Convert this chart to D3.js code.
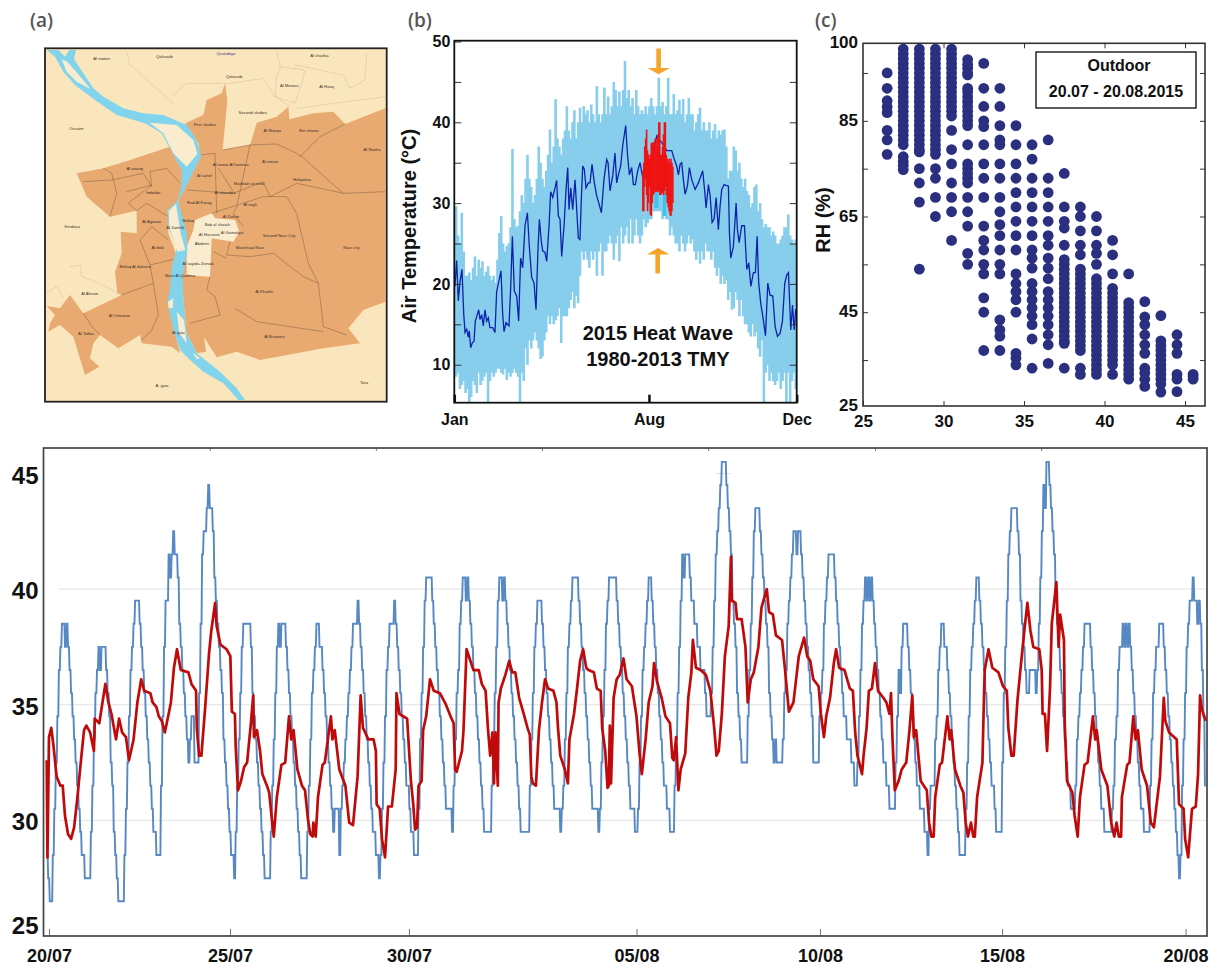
<!DOCTYPE html>
<html>
<head>
<meta charset="utf-8">
<script src="https://cdn.jsdelivr.net/npm/d3@7"></script>
<style>
	html, body { margin: 0; background: #fff; }
	svg { display: block; font-family: "Liberation Sans", Arial, sans-serif; }
	.panel-tag { font-family: "Open Sans", sans-serif; font-size: 19px; font-weight: 600; fill: #555; }
	.bold-tick text { font-weight: bold; fill: #111; }
</style>
</head>
<body>
<div id="chart"></div>
<script>
// (a) map, traced in map units
const mapLand = [[45, 145], [1070, 145], [1070, 1205], [45, 1205]];
const mapEastBank = [[465, 370], [520, 345], [530, 300], [575, 280], [585, 250], [592, 300], [578, 450], [660, 435], [680, 368], [740, 350], [775, 320], [778, 358], [850, 340], [910, 335], [945, 372], [1066, 325], [1066, 905], [1000, 930], [955, 985], [990, 1030], [880, 1045], [690, 1080], [620, 1055], [560, 1072], [522, 1012], [528, 1055], [500, 1060], [470, 1000], [460, 900], [455, 830], [470, 720], [445, 610], [470, 520], [510, 470], [505, 430]];
const mapWestBank = [[140, 520], [220, 505], [300, 480], [420, 440], [440, 480], [465, 520], [450, 600], [415, 630], [415, 700], [445, 780], [425, 840], [420, 900], [430, 980], [450, 1060], [425, 1040], [335, 1030], [330, 1005], [265, 1045], [210, 1005], [190, 1030], [180, 1075], [208, 1100], [165, 1125], [130, 1010], [90, 975], [55, 995], [60, 970], [75, 945], [50, 918], [90, 925], [120, 885], [160, 940], [275, 885], [262, 880], [255, 815], [275, 760], [272, 695], [320, 700], [320, 632], [240, 650], [170, 590]];
const mapBollaq = [[455, 610], [500, 670], [485, 705], [465, 700]];
const mapDowntown = [[495, 660], [545, 640], [555, 655], [615, 660], [628, 695], [610, 725], [545, 715], [540, 830], [470, 825], [470, 740], [490, 690]];
const mapNile = [[50, 150], [85, 150], [105, 170], [118, 150], [138, 150], [132, 178], [190, 265], [220, 290], [280, 325], [340, 340], [400, 345], [470, 375], [500, 420], [514, 468], [470, 555], [445, 605], [470, 700], [472, 750], [458, 830], [460, 900], [470, 1000], [500, 1060], [570, 1115], [620, 1165], [645, 1200], [625, 1200], [580, 1150], [520, 1115], [480, 1080], [450, 1050], [430, 990], [412, 905], [420, 870], [425, 800], [440, 745], [415, 680], [412, 630], [445, 600], [455, 550], [455, 510], [420, 445], [395, 400], [345, 370], [260, 345], [195, 300], [135, 255], [100, 215], [75, 170]];
const mapIslands = [
	[[95, 178], [112, 185], [155, 235], [182, 268], [140, 245], [110, 215]],
	[[358, 368], [440, 375], [490, 420], [502, 462], [470, 500], [430, 460], [400, 400]],
	[[416, 632], [438, 612], [452, 700], [466, 750], [442, 755], [418, 680]],
	[[440, 935], [462, 960], [470, 1030], [448, 1000]],
	[[414, 905], [430, 895], [428, 925], [416, 925]],
	[[488, 1058], [510, 1075], [500, 1078]]
];
const mapDistrictLines = [
	[[578, 450], [660, 435], [740, 432], [800, 460], [810, 470], [870, 410], [945, 372]],
	[[810, 465], [940, 580]],
	[[510, 465], [555, 460], [560, 640]],
	[[660, 435], [620, 620], [610, 640]],
	[[565, 505], [610, 575]],
	[[470, 570], [610, 580], [700, 545], [720, 590], [800, 550], [940, 580], [1065, 575]],
	[[545, 640], [700, 590], [770, 590], [800, 640], [835, 790], [865, 850], [880, 980], [950, 1005]],
	[[610, 640], [640, 680]],
	[[600, 725], [590, 765], [660, 770], [730, 760], [820, 830], [865, 850]],
	[[550, 755], [590, 775]],
	[[530, 870], [540, 830]],
	[[530, 870], [555, 890], [570, 945], [480, 970]],
	[[615, 925], [680, 965], [880, 995]],
	[[220, 505], [245, 520], [260, 580], [240, 650]],
	[[160, 545], [245, 540], [340, 520], [365, 560], [360, 515], [410, 505], [450, 550]],
	[[290, 575], [365, 555], [295, 610], [320, 632]],
	[[320, 632], [350, 610], [415, 650]],
	[[330, 720], [365, 680], [415, 720]],
	[[330, 720], [360, 795], [370, 850], [385, 945], [365, 990], [335, 1020]],
	[[360, 795], [430, 778]],
	[[160, 940], [190, 985], [210, 1005]],
	[[275, 885], [370, 850]]
];
const mapOuterLines = [
	[[290, 155], [300, 195], [430, 310]],
	[[430, 285], [470, 250], [600, 250], [700, 235], [735, 290], [780, 320]],
	[[750, 200], [825, 210], [815, 250], [795, 310], [735, 290], [740, 230], [750, 200]],
	[[795, 195], [940, 225], [960, 265], [1005, 240], [1010, 160]],
	[[740, 155], [750, 195]],
	[[800, 325], [1065, 290]],
	[[50, 880], [80, 860], [100, 895]],
	[[120, 800], [150, 795], [155, 830], [210, 850], [265, 880]]
];
const mapNames = ["Al namer", "Qalsouib", "Qualubiya", "Al sharika", "Qalsouib", "Al Morous", "Al Haraj", "Second shobra", "First shobra", "Al Matrya", "Ein shams", "Al Nozha", "Ossaim", "Al zawia Al hamraa", "Al sahel", "Al zitoun", "Al waraq", "Madinah al nsha", "Helipolisa", "Imbaba", "Al sharabia", "Rod Al Farag", "Al vayli", "Al Agouza", "Bollaq", "Al Zamilik", "Al Daher", "Bab al shaiah", "Kerdasa", "Al Husseini", "Al Gamaliya", "Abdeen", "Second Nasr City", "Nasr city", "Al doki", "Manshaat Nasr", "Bollaq Al dakrour", "Al sayida Zienab", "Masr Al-Qadima", "Al Khalifa", "Al Ahram", "Al Omranta", "Al Talbia", "Al giza", "Al Bsateen", "Tora", "A. giza"];
const mapNameSpots = [[215, 174], [403, 168], [588, 160], [868, 165], [612, 228], [778, 257], [890, 258], [668, 338], [524, 372], [727, 390], [837, 390], [1026, 449], [139, 384], [602, 492], [523, 527], [720, 483], [314, 505], [657, 549], [816, 539], [370, 576], [585, 578], [508, 606], [660, 613], [365, 663], [475, 660], [436, 682], [603, 650], [562, 673], [127, 680], [538, 704], [606, 696], [516, 729], [747, 706], [964, 741], [383, 743], [660, 741], [316, 798], [504, 791], [450, 825], [702, 873], [179, 880], [268, 946], [168, 1000], [445, 998], [733, 1010], [1002, 1147], [396, 1157]];

// (b) TMY band, one column every two days
const tmyHigh = [28, 29.6, 26, 25, 28.8, 24, 21, 21, 21.4, 20.5, 22, 23.4, 21, 23, 22, 22.8, 21, 21.5, 22.2, 21, 20.5, 21, 20.1, 23, 26.3, 28.4, 25, 24, 24.7, 25, 27, 36.7, 28, 27, 27.2, 29, 31, 30, 33, 36, 33, 32, 30, 31, 33, 37, 35, 33, 32, 34, 36, 39.1, 35, 37, 42.9, 38, 37, 36, 38, 39, 42, 39, 38, 40, 41.5, 38, 40, 41.8, 40, 42, 41, 41.5, 40, 42.2, 41, 40, 44.5, 41, 40, 41, 44.3, 41, 43.2, 41, 42, 45, 44, 42, 43.8, 42, 44, 47.6, 43, 44, 42, 43, 41, 44, 42, 41, 41.5, 41, 42, 41, 42, 43, 42, 41, 42, 45.5, 42, 42.5, 41, 42, 45.5, 41, 41, 43.5, 41, 41.5, 42.8, 41, 42.9, 40, 41, 43, 41, 41, 39, 40, 41, 41.8, 39, 40, 39, 39, 40, 38, 39, 39.8, 38, 39, 38.5, 39, 39.1, 37, 33, 34, 34, 37, 36.5, 34, 35, 33, 32, 33, 31.5, 31, 29.5, 30, 32, 32.3, 29, 30, 28, 27, 27.4, 27, 27, 26, 26.5, 26, 25, 25, 25.5, 26, 27, 27, 28.6, 26, 25.5, 25, 25.5];
const tmyLow = [12, 8.5, 9, 7, 7.5, 8, 6.5, 7, 5.3, 6, 8, 7.5, 6.5, 9, 7.5, 8, 8.5, 9, 5.3, 8, 9, 8.5, 9, 9.5, 9.5, 9, 8.8, 9.5, 8.1, 9, 8.5, 9, 9.5, 9, 8.5, 5.3, 9, 8, 12, 10, 13, 12, 13, 14, 13, 12, 10.7, 11, 13, 14, 16, 15, 16, 15, 15.5, 16, 17, 12.7, 16, 16, 16, 17, 18, 19, 17, 18.5, 17.6, 21, 24, 23, 24, 23, 22, 24, 23, 24, 21, 24, 25, 21, 24, 24, 25, 26, 25, 23, 25, 26, 22.8, 27, 25, 26, 27, 25, 28, 25, 26, 28, 26, 25, 26, 28, 27, 27.5, 28, 28, 29, 29, 29, 29, 29, 28, 28.5, 28, 28, 26, 27, 26, 25, 25, 24, 26, 25, 24, 25, 26, 25, 25.5, 24, 23, 24, 22.5, 24, 23, 25, 24, 24, 23, 24, 22, 21, 22, 20, 21, 20, 20.5, 18, 19, 16.8, 17, 19, 18, 16, 18, 16, 15, 15, 14, 13.5, 15, 13.5, 14, 12, 11, 13, 5.3, 9, 10, 8, 9, 8, 7.5, 8, 9, 7, 8, 9, 5.3, 9, 5.3, 8, 9, 7];
const tmyMean = [[0.7, 19.7], [2.5, 22.9], [4.3, 17.9], [6, 20.2], [8.2, 21.8], [10, 16.4], [11.4, 14], [13.2, 14.4], [14.9, 13.4], [16, 14.2], [17.4, 12.1], [19.2, 12.7], [21, 12.9], [22.4, 15.4], [24.5, 16.2], [26, 16.8], [27.4, 15.6], [29.2, 16.2], [30.9, 14.8], [32.7, 16.8], [34.5, 15.4], [36.3, 15.8], [38, 14.6], [40.9, 14.6], [43.4, 14], [45.1, 19], [47.6, 20.4], [49.8, 21.6], [51.5, 16.4], [53, 14.1], [55.1, 15.2], [58.3, 14.8], [60.1, 19.5], [61.9, 25.9], [64, 19.1], [66.5, 18.5], [68.6, 15.4], [70.7, 23.2], [72.9, 22], [75.4, 27.2], [77.9, 28.8], [80, 24.6], [82.5, 20.8], [85, 20.1], [87.1, 16.8], [89.2, 24.3], [90.7, 28], [92.8, 25.2], [94.2, 24.1], [96.7, 23.9], [98.5, 22.8], [101, 27.2], [102.7, 31.4], [104.9, 30.7], [107, 31.7], [109.1, 32.8], [110.9, 28.4], [112.7, 28], [114.5, 23.4], [117, 27.2], [119.1, 31.7], [120.9, 34.4], [122.3, 29.2], [124.1, 31.9], [126.2, 29.2], [128.7, 32.9], [130.5, 29.2], [132.2, 25.7], [134, 25.5], [135.4, 30.5], [136.9, 34.6], [138.6, 34.2], [140.4, 31.9], [142.9, 32.5], [144.7, 32.5], [146.8, 34.8], [149.3, 32.5], [151.8, 30.9], [154.3, 29.9], [156.8, 28.8], [159.6, 33], [162.5, 35.4], [163.9, 35], [166, 31.5], [168.9, 33.4], [171.3, 36.2], [173.1, 32.5], [174.9, 33.5], [177.4, 34.6], [179.5, 37.1], [182.7, 39.6], [184.5, 36.2], [186.6, 33.5], [189.1, 34.4], [190.9, 32.3], [193, 32.3], [195.5, 34], [198, 35], [200.5, 33.4], [205.1, 34.6], [210.4, 35.4], [215.8, 38.3], [221.1, 37.5], [226.5, 36.5], [231.8, 36.5], [234.3, 35.5], [237.1, 34.6], [238.9, 33.5], [240.7, 34.8], [242.4, 35], [244.2, 32.9], [246, 31.1], [248.5, 32.1], [250.6, 34.4], [253.1, 32.9], [256.7, 31.7], [260.2, 32.5], [264.8, 34], [267, 31.4], [268.4, 29.4], [270.9, 32.3], [272.7, 30.9], [274.8, 27.6], [276.9, 28], [279.1, 30.7], [281.5, 26.7], [283.3, 29.6], [285.1, 31.7], [287.6, 32.3], [292.2, 32.1], [293.3, 26.3], [294.7, 23.2], [297.5, 24.6], [300.4, 30], [301.8, 26.7], [303.6, 25.1], [306.4, 27.2], [309.3, 27.2], [311.8, 21.8], [313.9, 22.6], [316.1, 19.7], [318.9, 21.4], [321, 21.4], [322.8, 25.9], [324.5, 20.1], [326.7, 17.6], [329.5, 15.5], [331.7, 13.6], [334.2, 20.1], [336.6, 18.6], [339.5, 18.5], [342, 14.7], [344.5, 13.5], [347.3, 13.9], [349.8, 15.4], [352.3, 20.1], [354.4, 21.1], [356.2, 21.4], [358.7, 14.3], [360.5, 17.4], [362.3, 14.3], [364, 16.9]];
const waveDays = [201, 202, 203, 204, 205, 206, 207, 208, 209, 210, 211, 212, 213, 214, 215, 216, 217, 218, 219, 220, 221, 222, 223, 224, 225, 226, 227, 228, 229, 230, 231, 232, 233];
const waveHigh = [34, 35, 37, 38, 39.1, 36.5, 36, 35.5, 36, 37.4, 37.5, 37.5, 37.5, 38, 37, 38, 38.5, 40, 40, 36, 36, 37, 38.5, 40, 40, 36, 35.5, 35, 35.5, 35, 35.5, 35, 34.5];
const waveLow = [29, 29, 32, 33, 31, 29, 30, 32, 28.6, 28.4, 30, 31, 31.2, 31.4, 31.4, 31.4, 31.4, 31.5, 31, 31, 31.2, 31.3, 31, 31.5, 32, 31, 30, 29.5, 29, 28.5, 28.4, 29, 30];
const coolDays = [214, 215, 216, 217, 223, 224, 225];
const coolLow = [29.4, 29.4, 29.4, 29.4, 28.4, 28.4, 28.4];
const yearTicks = [0, 207.5, 365];
const yearTickLabels = ["Jan", "Aug", "Dec"];

// (c) RH readings, grouped by whole-degree bin
const rhBins = [26.5, 27.5, 28.5, 29.5, 30.5, 31.5, 32.5, 33.5, 34.5, 35.5, 36.5, 37.5, 38.5, 39.5, 40.5, 41.5, 42.5, 43.5, 44.5, 45.5];
const rhValues = [
	[95, 91.8, 89.2, 87.9, 86.7, 83, 81, 78],
	[100, 99, 98, 97, 96, 95, 94, 93, 92, 91, 90, 89, 88, 87, 86, 85, 84, 83, 82, 81, 80, 77.5, 76.5, 75.7, 74.8],
	[100, 99, 98, 97, 96, 95, 94, 93, 92, 91, 90, 89, 88, 87, 86, 85, 84, 83, 82, 81, 80, 79, 78.5, 75, 72, 68, 54],
	[100, 99, 98, 97, 96, 95, 94, 93, 92, 91, 90, 89, 88, 87, 86, 85, 84, 83, 82, 81, 80, 79, 78, 75, 73, 69, 65],
	[100, 99, 98, 97, 96, 95, 94, 93, 92, 91, 90, 89, 88, 87, 86, 83, 79, 76, 72, 69, 66, 60],
	[97.8, 96.8, 96, 95, 94.6, 91.8, 91, 90, 89, 88, 87, 86, 85, 84, 80, 76, 75, 74, 73, 72, 69, 66, 63, 57.3, 55],
	[97, 91.8, 88, 85, 83.8, 80, 76, 73, 69, 63, 60, 58, 55, 53, 48, 45, 37],
	[91.8, 88, 84, 81, 80, 76, 73, 69, 66, 63.3, 61, 58, 55, 53, 43.4, 41.3, 40, 37],
	[84, 80, 76, 73, 70, 67, 64, 61, 58, 53, 51, 49.3, 47.6, 45, 36.4, 35.4, 34],
	[80, 77, 73, 70, 67, 64, 61, 58, 56.3, 54.2, 51, 49.3, 47.6, 45.9, 44.2, 42.4, 39.4, 33.3],
	[81, 73, 70, 67, 64, 61, 59, 56.3, 54.2, 52, 49.3, 47.6, 45.9, 44.2, 42.4, 40.3, 38.2, 34.3],
	[74, 67, 64, 62.6, 59, 56, 55, 54, 53, 52, 51, 50, 49, 48, 47, 46, 45, 44, 43, 42, 41, 40, 39, 38.5, 33.3],
	[67, 65, 62, 59, 57, 54, 53, 52, 51, 50, 49, 48, 47, 46, 45, 44, 43, 42, 41, 40, 39, 38, 37, 33.3, 32],
	[65, 62, 59, 57.3, 55, 52, 51, 50, 49, 48, 47, 46, 45, 44, 43, 42, 41, 40, 39, 38, 37, 36, 35, 34, 33, 32],
	[60, 57, 53, 50, 49, 48, 47, 46, 45, 44, 43, 42, 41, 40, 39, 38, 37, 36, 35, 34, 32],
	[53, 47, 46, 45, 44, 43, 42, 41, 40, 39, 38, 37, 36, 35, 34, 33, 32, 31],
	[47.2, 44, 42.4, 40.3, 38.2, 36.4, 33.3, 32.3, 31, 29.5],
	[44.3, 39, 38, 37, 36, 35, 34, 33, 32, 31, 30, 28.3],
	[40.3, 38.2, 36.4, 32, 31, 28.4],
	[32, 31.5, 31]
];
const rhTickValues = [35, 45, 55, 65, 75, 85, 95];
const rhLabelValues = [25.4, 45, 65, 85, 101.2];
const rhLabels = ["25", "45", "65", "85", "100"];
const tempBinTicks = [25, 30, 35, 40, 45];

// bottom panel: outdoor readings hour by hour, one row per day-night cycle
const outdoorStarts = [0, 29, 51, 75, 100, 124, 147, 171, 193, 220, 244, 267, 292, 317, 339, 364, 389, 412, 436, 460, 483, 507, 533, 557, 579, 603, 627, 651, 675, 699, 724, 745];
const outdoorCycles = [
	[28.5, 27.5, 26.5, 26.5, 28.5, 30.5, 32.5, 34.5, 36.5, 37.5, 38.5, 38.5, 37.5, 38.5, 37.5, 36.5, 35.5, 34.5, 33.5, 32.5, 31.5, 30.5, 29.5, 28.5, 28.5, 27.5, 27.5, 27.5, 27.5],
	[29.5, 31.5, 33.5, 35.5, 36.5, 37.5, 36.5, 37.5, 37.5, 37.5, 36.5, 35.5, 34.5, 32.5, 31.5, 29.5, 28.5, 27.5, 26.5, 26.5, 26.5, 26.5],
	[28.5, 30.5, 32.5, 34.5, 36.5, 37.5, 38.5, 39.5, 39.5, 39.5, 38.5, 37.5, 36.5, 35.5, 34.5, 33.5, 32.5, 31.5, 30.5, 29.5, 29.5, 28.5, 28.5, 28.5],
	[31.5, 34.5, 37.5, 39.5, 39.5, 41.5, 40.5, 41.5, 42.5, 41.5, 41.5, 40.5, 38.5, 37.5, 36.5, 35.5, 34.5, 33.5, 32.5, 33.5, 34.5, 34.5, 32.5, 32.5, 32.5],
	[35.5, 38.5, 41.5, 42.5, 42.5, 43.5, 44.5, 43.5, 43.5, 42.5, 40.5, 39.5, 38.5, 37.5, 36.5, 35.5, 33.5, 32.5, 31.5, 30.5, 29.5, 28.5, 28.5, 27.5],
	[29.5, 31.5, 33.5, 35.5, 37.5, 38.5, 38.5, 38.5, 38.5, 38.5, 37.5, 35.5, 34.5, 33.5, 32.5, 31.5, 30.5, 29.5, 28.5, 27.5, 27.5, 27.5, 27.5],
	[29.5, 31.5, 33.5, 35.5, 37.5, 38.5, 37.5, 38.5, 38.5, 38.5, 37.5, 36.5, 35.5, 34.5, 33.5, 32.5, 31.5, 30.5, 29.5, 28.5, 27.5, 27.5, 27.5, 27.5],
	[29.5, 31.5, 33.5, 35.5, 36.5, 37.5, 38.5, 38.5, 37.5, 37.5, 36.5, 35.5, 34.5, 33.5, 32.5, 31.5, 30.5, 29.5, 30.5, 30.5, 30.5, 28.5],
	[30.5, 31.5, 32.5, 33.5, 34.5, 35.5, 36.5, 37.5, 38.5, 38.5, 38.5, 39.5, 38.5, 37.5, 36.5, 35.5, 34.5, 33.5, 32.5, 31.5, 30.5, 29.5, 29.5, 28.5, 28.5, 27.5, 28.5],
	[30.5, 32.5, 34.5, 36.5, 37.5, 38.5, 38.5, 38.5, 39.5, 38.5, 37.5, 36.5, 35.5, 34.5, 33.5, 32.5, 31.5, 31.5, 30.5, 29.5, 29.5, 28.5, 28.5, 28.5],
	[30.5, 33.5, 35.5, 37.5, 39.5, 40.5, 40.5, 40.5, 40.5, 39.5, 38.5, 37.5, 36.5, 35.5, 34.5, 33.5, 32.5, 31.5, 30.5, 30.5, 30.5, 30.5, 29.5],
	[31.5, 33.5, 35.5, 36.5, 38.5, 39.5, 40.5, 40.5, 39.5, 40.5, 39.5, 38.5, 37.5, 36.5, 35.5, 34.5, 33.5, 32.5, 31.5, 30.5, 29.5, 29.5, 29.5, 29.5, 29.5],
	[31.5, 33.5, 35.5, 37.5, 39.5, 40.5, 40.5, 39.5, 40.5, 39.5, 38.5, 37.5, 36.5, 35.5, 34.5, 33.5, 32.5, 31.5, 30.5, 29.5, 29.5, 29.5, 29.5, 29.5, 29.5],
	[31.5, 33.5, 35.5, 37.5, 38.5, 39.5, 39.5, 39.5, 38.5, 37.5, 36.5, 35.5, 34.5, 33.5, 32.5, 31.5, 30.5, 30.5, 30.5, 30.5, 29.5, 30.5],
	[31.5, 33.5, 35.5, 37.5, 38.5, 39.5, 40.5, 40.5, 40.5, 40.5, 39.5, 38.5, 37.5, 36.5, 35.5, 34.5, 33.5, 32.5, 31.5, 30.5, 30.5, 30.5, 30.5, 29.5, 30.5],
	[32.5, 34.5, 36.5, 38.5, 39.5, 40.5, 40.5, 40.5, 40.5, 40.5, 39.5, 38.5, 37.5, 36.5, 35.5, 34.5, 33.5, 32.5, 31.5, 30.5, 30.5, 30.5, 29.5, 29.5, 30.5],
	[32.5, 34.5, 36.5, 37.5, 38.5, 39.5, 40.5, 40.5, 39.5, 38.5, 37.5, 36.5, 35.5, 34.5, 33.5, 32.5, 31.5, 31.5, 30.5, 30.5, 29.5, 29.5, 29.5],
	[31.5, 33.5, 35.5, 37.5, 39.5, 41.5, 40.5, 41.5, 41.5, 41.5, 40.5, 39.5, 39.5, 38.5, 38.5, 37.5, 37.5, 36.5, 36.5, 36.5, 35.5, 34.5, 34.5, 34.5],
	[35.5, 37.5, 39.5, 41.5, 42.5, 43.5, 44.5, 45.5, 45.5, 45.5, 44.5, 43.5, 42.5, 41.5, 39.5, 38.5, 37.5, 35.5, 34.5, 33.5, 32.5, 32.5, 32.5, 32.5],
	[34.5, 36.5, 38.5, 40.5, 42.5, 43.5, 43.5, 43.5, 42.5, 41.5, 40.5, 39.5, 38.5, 37.5, 35.5, 34.5, 33.5, 32.5, 33.5, 32.5, 32.5, 32.5, 32.5],
	[33.5, 35.5, 36.5, 38.5, 39.5, 40.5, 41.5, 42.5, 42.5, 41.5, 42.5, 42.5, 41.5, 40.5, 39.5, 38.5, 37.5, 36.5, 35.5, 34.5, 32.5, 32.5, 32.5, 32.5],
	[34.5, 35.5, 36.5, 38.5, 39.5, 40.5, 41.5, 41.5, 41.5, 41.5, 40.5, 39.5, 38.5, 37.5, 36.5, 35.5, 34.5, 34.5, 33.5, 33.5, 33.5, 32.5, 32.5, 31.5, 31.5, 32.5],
	[34.5, 36.5, 38.5, 39.5, 40.5, 39.5, 40.5, 39.5, 40.5, 39.5, 38.5, 37.5, 36.5, 35.5, 34.5, 33.5, 32.5, 32.5, 31.5, 31.5, 30.5, 30.5, 30.5, 30.5],
	[32.5, 34.5, 36.5, 35.5, 37.5, 38.5, 38.5, 38.5, 37.5, 36.5, 35.5, 34.5, 33.5, 32.5, 31.5, 31.5, 30.5, 30.5, 30.5, 29.5, 29.5, 28.5],
	[30.5, 31.5, 31.5, 31.5, 33.5, 34.5, 36.5, 37.5, 38.5, 38.5, 37.5, 37.5, 36.5, 35.5, 34.5, 33.5, 32.5, 31.5, 30.5, 29.5, 28.5, 28.5, 28.5, 28.5],
	[30.5, 32.5, 34.5, 36.5, 37.5, 38.5, 39.5, 40.5, 40.5, 39.5, 38.5, 37.5, 36.5, 35.5, 34.5, 33.5, 32.5, 31.5, 31.5, 30.5, 29.5, 29.5, 29.5, 29.5],
	[32.5, 35.5, 37.5, 39.5, 41.5, 42.5, 43.5, 43.5, 43.5, 43.5, 42.5, 41.5, 39.5, 38.5, 37.5, 36.5, 35.5, 35.5, 36.5, 36.5, 36.5, 36.5, 35.5, 36.5],
	[38.5, 40.5, 42.5, 44.5, 43.5, 45.5, 45.5, 44.5, 43.5, 42.5, 41.5, 39.5, 38.5, 37.5, 36.5, 35.5, 34.5, 33.5, 32.5, 31.5, 31.5, 30.5, 30.5, 30.5],
	[31.5, 33.5, 34.5, 35.5, 36.5, 37.5, 38.5, 38.5, 38.5, 38.5, 37.5, 36.5, 35.5, 34.5, 33.5, 32.5, 31.5, 30.5, 30.5, 29.5, 29.5, 29.5, 29.5, 29.5],
	[30.5, 31.5, 33.5, 34.5, 36.5, 37.5, 37.5, 38.5, 37.5, 38.5, 37.5, 38.5, 37.5, 36.5, 35.5, 34.5, 33.5, 32.5, 31.5, 30.5, 30.5, 29.5, 29.5, 29.5, 29.5],
	[31.5, 33.5, 35.5, 36.5, 37.5, 37.5, 38.5, 38.5, 38.5, 37.5, 36.5, 35.5, 34.5, 33.5, 32.5, 31.5, 30.5, 29.5, 28.5, 27.5, 28.5],
	[31.5, 33.5, 35.5, 37.5, 38.5, 39.5, 39.5, 40.5, 39.5, 39.5, 38.5, 39.5, 38.5, 36.5, 34.5, 31.5]
];
// indoor trace as [hour, temperature] readings
const indoorReadings = [[0, 32.6], [0.5, 28.4], [1.5, 33.6], [3, 34], [4.5, 33.2], [6.5, 31.9], [9, 31.5], [10.5, 31.5], [12, 30.2], [14, 29.4], [16, 29.2], [18, 29.7], [20, 30.9], [22.5, 32.6], [24.5, 33.9], [26, 34.1], [28.5, 33.8], [31, 33], [31.5, 34.4], [34.5, 34.2], [38.5, 35.9], [40.5, 35.1], [42.5, 34.6], [45.5, 33.5], [47.5, 34.4], [49.5, 33.8], [52, 33.6], [54, 32.6], [57, 33.5], [59.5, 35.1], [62, 36.1], [64, 35.6], [68, 35.5], [69.5, 35.1], [72, 34.9], [73.5, 34.5], [75.5, 34.3], [77.5, 33.8], [80, 34.6], [81.5, 35.1], [83.5, 36.6], [85.5, 37.4], [88, 36.5], [93, 36.4], [95, 35.9], [98, 35.6], [98.5, 34], [100, 32.8], [101.5, 32.8], [104, 34.9], [106.5, 37.2], [108, 38.2], [110.5, 39.4], [111.5, 38.4], [114, 37.6], [118, 37.4], [120.5, 37.1], [121.5, 34.7], [123.5, 34.6], [124, 33.2], [125.5, 31.3], [127.5, 31.7], [129.5, 32.3], [131.5, 32.5], [134, 34.2], [135.5, 35.4], [136, 33.6], [138, 33.9], [140, 33], [141.5, 32], [144.5, 31.5], [146, 31.2], [147.5, 30.2], [149, 29.3], [151, 31], [154, 32.4], [156.5, 32.5], [159, 34.5], [160.5, 33.5], [162, 33.9], [164.5, 32.2], [167.5, 31.5], [169.5, 31.3], [171.5, 30], [173, 29.4], [174.5, 29.3], [175, 29.9], [176.5, 29.3], [178, 31], [181, 32.4], [182.5, 32.5], [186.5, 34.5], [187.5, 33.5], [189, 33.9], [192, 32.2], [196, 31.5], [198.5, 29.9], [201, 29.8], [204, 31.9], [206, 35.4], [207.5, 34], [209, 33.8], [211, 33.5], [214.5, 33.5], [216, 33], [216.5, 30.7], [218.5, 30.5], [220, 29.2], [222, 28.4], [224, 30.6], [226.5, 30.6], [229, 32.2], [229.5, 35.5], [231.5, 34.6], [236.5, 34.4], [239, 31.7], [240.5, 30.7], [241.7, 29.6], [243, 29.7], [244, 31.5], [246, 31.7], [247, 33.9], [249, 34.5], [251.5, 36.1], [254, 35.6], [258, 35.5], [262, 35], [265, 34.5], [267, 34.2], [268, 32.2], [269, 32.1], [272.5, 33], [273.5, 33.9], [275.5, 37.4], [278, 36.9], [280, 36.5], [283.5, 36.5], [285.5, 35.9], [288, 35.6], [289.5, 34], [291, 32.8], [292.5, 33.8], [293.5, 31.6], [294.5, 33.8], [296, 31.5], [296.5, 35.1], [298, 35.7], [301, 36.3], [303.5, 36.9], [305.5, 36.4], [307.5, 36.4], [310, 35.3], [313, 34.6], [315.5, 34], [317, 33.7], [318, 31.9], [319, 31.6], [321, 31.5], [323, 33.9], [325, 35.1], [327, 36.1], [329, 35.7], [332.5, 35.6], [334.5, 35.1], [335.5, 34], [337, 32.8], [340, 32.2], [342, 31.6], [343, 33.5], [346, 34.6], [348, 35.7], [350, 36.9], [352, 37.4], [354, 36.6], [355.5, 36.5], [359, 36.4], [361, 35.7], [363.5, 35.6], [364.5, 34], [366.5, 33], [368, 31.4], [368.8, 31.5], [369.5, 34.1], [370.3, 31.6], [372, 35.3], [374, 36.1], [376, 36.3], [378.5, 37], [380.5, 36.1], [384, 35.8], [387, 34.5], [389, 32.9], [390.5, 32], [393, 33.5], [395, 35.1], [397.5, 35.8], [398.5, 36.8], [400.5, 36], [403.5, 35.3], [406, 34.5], [409, 34.2], [410.5, 32.7], [411.5, 32.6], [413, 33.6], [414.5, 31.3], [416, 32.2], [419, 32.9], [421, 35.3], [423, 36.4], [424, 37.8], [426, 36.6], [429, 36.5], [432.5, 36.3], [435.5, 35.6], [438, 34], [439.5, 32.8], [441, 33], [443, 34.6], [445, 37.1], [447.5, 38.4], [449, 41.4], [449.5, 39.5], [452, 39.4], [453, 38.7], [456, 38.7], [458.5, 37.5], [460, 35.1], [462, 36.1], [464, 36.4], [467, 37.5], [469, 39.2], [472.5, 40], [474, 39], [476.5, 38.9], [478.5, 38], [482.5, 37.8], [484.5, 36.5], [487, 34.7], [490, 35.1], [493.5, 37.1], [497, 37.9], [499, 37.1], [501, 36.9], [503, 36.1], [506.5, 35.8], [508, 34.6], [510, 33.6], [511.5, 34.5], [514, 35.3], [516.5, 36.8], [518, 37.4], [520, 36.6], [523.5, 36.5], [527, 35.7], [529, 35.6], [530.5, 33.8], [532, 32.8], [535, 32], [536, 32.8], [538, 34], [539.5, 35.6], [541.5, 35.7], [543.5, 36.8], [545.5, 35.6], [549, 35.3], [551, 35.1], [553, 34.6], [554, 35.5], [555, 33.5], [556.5, 31.3], [559, 31.7], [561, 32.2], [564, 32.5], [566, 33.8], [568, 35.4], [569, 33.6], [570.5, 33.9], [573.5, 31.7], [577.5, 31.3], [579, 29.9], [580.5, 29.3], [582, 29.3], [583, 31], [586, 32.4], [587.5, 32.5], [591, 34.5], [592.5, 33.5], [593.5, 33.9], [596, 32.2], [599.5, 31.5], [601.5, 31.2], [603, 29.9], [604.5, 29.3], [606.5, 29.9], [608, 29.3], [609, 29.3], [610.5, 31], [614, 32.5], [615, 35.3], [615.5, 36.5], [618, 37.4], [620.5, 36.6], [624.5, 36.4], [627.5, 35.8], [630, 35.6], [631, 34], [633, 32.8], [634.5, 32.8], [637, 35.2], [639.5, 36.9], [641.5, 38.2], [643.5, 39.4], [645.5, 38.2], [647.4, 37.5], [651.3, 37.4], [652.9, 36.5], [653.5, 34.6], [655, 34.6], [656.4, 33], [658.4, 35.8], [659.5, 38.5], [662.5, 40.3], [664, 37.5], [665, 38.9], [667.5, 37.8], [668, 34.2], [669.5, 31.7], [673, 31.2], [674.5, 30.2], [676.5, 29.3], [678, 31], [681, 32.4], [683, 32.5], [686.5, 34.5], [688, 33.5], [689, 33.9], [692, 32.2], [696, 31.5], [698.5, 29.9], [700.5, 29.3], [702, 29.9], [703.5, 29.3], [705, 29.3], [705.5, 31], [709, 32.4], [710.5, 32.5], [713, 34.5], [714.5, 33.5], [716, 33.9], [718.5, 32.2], [722, 31.5], [724.5, 29.9], [726.5, 29.7], [730.5, 31.9], [733, 35.3], [734, 34.3], [736.5, 33.8], [741.5, 33.5], [743, 30.7], [746, 30.5], [747, 29.2], [749, 28.4], [751.5, 30.5], [754, 30.6], [755.5, 32], [756.8, 35.4], [758, 34.8], [760.5, 34.3]];
const timeTicks = [1.5, 120.3, 237.7, 387, 507.4, 626.9, 747.3];
const timeLabels = ["20/07", "25/07", "30/07", "05/08", "10/08", "15/08", "20/08"];
const timeTopTicks = [107, 216, 325, 434, 543.5, 652.5];
const tempTicks = [25, 30, 35, 40, 45];
const tempGrid = [30, 35, 40];

const svg = d3.select("#chart").append("svg").attr("width", 1217).attr("height", 968);

const addTag = (text, x) => svg.append("text").attr("class", "panel-tag").attr("x", x).attr("y", 27).text(text);
addTag("(a)", 30);
addTag("(b)", 408);
addTag("(c)", 815);

const addFrame = (g, x, y, w, h, color, width) => g.append("rect")
	.attr("x", x).attr("y", y).attr("width", w).attr("height", h)
	.attr("fill", "none").attr("stroke", color).attr("stroke-width", width);

// Panel a
const drawMap = () => {
	const g = svg.append("g");
	const mx = d3.scaleLinear().domain([45, 1070]).range([45, 386.7]);
	const my = d3.scaleLinear().domain([145, 1205]).range([48.3, 401.7]);
	const line = d3.line().x((d) => mx(d[0])).y((d) => my(d[1]));
	const shape = (pts, fill) => g.append("path").attr("d", `${line(pts)}Z`).attr("fill", fill);

	shape(mapLand, "#fae6bc");
	shape(mapEastBank, "#e9aa72");
	shape(mapWestBank, "#e9aa72");
	shape(mapBollaq, "#e9aa72");
	shape(mapDowntown, "#faedcf");
	g.selectAll(".outer").data(mapOuterLines).join("path")
		.attr("d", line).attr("fill", "none").attr("stroke", "#b9a27c")
		.attr("stroke-width", 0.5).attr("stroke-dasharray", "1.5 1");
	g.selectAll(".district").data(mapDistrictLines).join("path")
		.attr("d", line).attr("fill", "none").attr("stroke", "#8d6a48").attr("stroke-width", 0.6);
	shape(mapNile, "#82d3ec");
	mapIslands.forEach((d) => shape(d, "#faedcf"));

	g.selectAll("text").data(mapNames).join("text")
		.attr("x", (d, i) => mx(mapNameSpots[i][0]))
		.attr("y", (d, i) => my(mapNameSpots[i][1]) + 1.6)
		.attr("text-anchor", "middle")
		.attr("font-size", 4.2)
		.attr("fill", (d) => (d === "Qualubiya" ? "#44308a" : "#3a2f28"))
		.text((d) => d);

	addFrame(g, 45, 48.3, 341.7, 353.4, "#222", 1.8);
};

// Panel b
const drawClimate = () => {
	const g = svg.append("g");
	const x = d3.scaleLinear().domain([0, 365]).range([454.3, 796.7]);
	const y = d3.scaleLinear().domain([5.3, 50.1]).range([402.7, 40.7]);

	g.append("clipPath").attr("id", "climate-clip").append("rect")
		.attr("x", 454.3).attr("y", 40.7).attr("width", 342.4).attr("height", 362);
	const band = g.append("g").attr("clip-path", "url(#climate-clip)");

	band.selectAll(".tmy").data(tmyHigh).join("line")
		.attr("x1", (d, i) => x(i * 2)).attr("x2", (d, i) => x(i * 2))
		.attr("y1", (d) => y(d)).attr("y2", (d, i) => y(tmyLow[i]))
		.attr("stroke", "#87cdec").attr("stroke-width", 2.6);

	g.selectAll(".cool").data(coolDays).join("line")
		.attr("x1", (d) => x(d)).attr("x2", (d) => x(d))
		.attr("y1", (d, i) => y(coolLow[i])).attr("y2", y(32))
		.attr("stroke", "#35c4ef").attr("stroke-width", 1.2);

	const meanLine = d3.line().x((d) => x(d[0])).y((d) => y(d[1]));
	g.append("path").attr("d", meanLine(tmyMean))
		.attr("fill", "none").attr("stroke", "#0d22ad").attr("stroke-width", 1.3);

	g.selectAll(".wave").data(waveDays).join("line")
		.attr("x1", (d) => x(d)).attr("x2", (d) => x(d))
		.attr("y1", (d, i) => y(waveHigh[i])).attr("y2", (d, i) => y(waveLow[i]))
		.attr("stroke", "#f01212").attr("stroke-width", 1.6);

	// orange markers around the heat wave
	const arrows = g.append("g").attr("fill", "#f6a52a");
	arrows.append("path").attr("d", "M656.3 48.5h4.6v19.5h9l-11.3 6.2-11-6.2h8.7z");
	arrows.append("path").attr("d", "M655.4 273.5h4.6v-19h9.5l-11.5-6.4-11 6.4h8.4z");

	const note = g.append("g").attr("font-size", 20).attr("font-weight", "bold").attr("fill", "#111").attr("text-anchor", "middle");
	note.append("text").attr("x", x(217)).attr("y", 340).text("2015 Heat Wave");
	note.append("text").attr("x", x(217)).attr("y", 366).text("1980-2013 TMY");

	const left = d3.axisLeft(y).tickValues(d3.range(10, 51, 5)).tickSizeInner(-7).tickSizeOuter(0).tickPadding(4)
		.tickFormat((d) => (d % 10 === 0 ? d : ""));
	const leftG = g.append("g").attr("class", "bold-tick").attr("transform", "translate(454.3,0)").call(left);
	leftG.select(".domain").remove();
	leftG.selectAll("text").attr("font-size", 16).attr("font-family", "Liberation Sans");
	leftG.selectAll("line").attr("stroke", "#333");

	const right = d3.axisRight(y).tickValues(d3.range(10, 50, 5)).tickSizeInner(-7).tickSizeOuter(0).tickFormat("");
	const rightG = g.append("g").attr("transform", "translate(796.7,0)").call(right);
	rightG.select(".domain").remove();
	rightG.selectAll("line").attr("stroke", "#333");

	const bottom = d3.axisBottom(x).tickValues(yearTicks).tickSizeInner(-8).tickSizeOuter(0).tickPadding(11)
		.tickFormat((d, i) => yearTickLabels[i]);
	const bottomG = g.append("g").attr("class", "bold-tick").attr("transform", "translate(0,402.7)").call(bottom);
	bottomG.select(".domain").remove();
	bottomG.selectAll("text").attr("font-size", 16).attr("font-family", "Liberation Sans");
	bottomG.selectAll("line").attr("stroke", "#111").attr("stroke-width", 2.5);

	addFrame(g, 454.3, 40.7, 342.4, 362, "#111", 1.8);

	g.append("text").attr("transform", "translate(416,226) rotate(-90)")
		.attr("text-anchor", "middle").attr("font-size", 20).attr("font-weight", "bold").attr("fill", "#111")
		.text("Air Temperature (°C)");
};

// Panel c
const drawHumidity = () => {
	const g = svg.append("g");
	const x = d3.scaleLinear().domain([25, 46.24]).range([863, 1205]);
	const y = d3.scaleLinear().domain([25.4, 101.2]).range([406, 43.3]);

	rhBins.forEach((bin, i) => {
		g.append("g").selectAll("circle").data(rhValues[i]).join("circle")
			.attr("cx", x(bin)).attr("cy", (d) => y(d)).attr("r", 5.4).attr("fill", "#2a2f7f");
	});

	const bottom = d3.axisBottom(x).tickValues(tempBinTicks).tickSizeInner(-5).tickSizeOuter(0).tickPadding(9);
	const bottomG = g.append("g").attr("class", "bold-tick").attr("transform", "translate(0,406)").call(bottom);
	bottomG.select(".domain").remove();
	bottomG.selectAll("text").attr("font-size", 17).attr("font-family", "Liberation Sans");
	bottomG.selectAll("line").attr("stroke", "#333");

	const top = d3.axisTop(x).tickValues(tempBinTicks.slice(1)).tickSizeInner(-5).tickSizeOuter(0).tickFormat("");
	const topG = g.append("g").attr("transform", "translate(0,43.3)").call(top);
	topG.select(".domain").remove();
	topG.selectAll("line").attr("stroke", "#333");

	[[863, 5], [1205, -5]].forEach(([pos, len]) => {
		const side = d3.axisLeft(y).tickValues(rhTickValues).tickSize(-len).tickFormat("");
		const sideG = g.append("g").attr("transform", `translate(${pos},0)`).call(side);
		sideG.select(".domain").remove();
		sideG.selectAll("line").attr("stroke", "#333");
	});

	g.append("g").selectAll("text").data(rhLabels).join("text")
		.attr("x", 858).attr("y", (d, i) => y(rhLabelValues[i]) + 5)
		.attr("text-anchor", "end").attr("font-size", 17).attr("font-weight", "bold").attr("fill", "#111")
		.text((d) => d);

	addFrame(g, 863, 43.3, 342, 362.7, "#333", 1.6);

	g.append("text").attr("transform", "translate(830,220) rotate(-90)")
		.attr("text-anchor", "middle").attr("font-size", 20).attr("font-weight", "bold").attr("fill", "#111")
		.text("RH (%)");

	const box = g.append("g");
	box.append("rect").attr("x", 1036).attr("y", 52).attr("width", 160).attr("height", 56)
		.attr("fill", "#fff").attr("stroke", "#333").attr("stroke-width", 1.6);
	box.append("text").attr("x", 1119).attr("y", 71).attr("text-anchor", "middle")
		.attr("font-size", 16).attr("font-weight", "bold").attr("fill", "#111").text("Outdoor");
	box.append("text").attr("x", 1116).attr("y", 97).attr("text-anchor", "middle")
		.attr("font-size", 16).attr("font-weight", "bold").attr("fill", "#111").text("20.07 - 20.08.2015");
};

// Bottom panel
const drawSeries = () => {
	const g = svg.append("g");
	const x = d3.scaleLinear().domain([0, 760.7]).range([46.7, 1206]);
	const y = d3.scaleLinear().domain([25, 46.1]).range([936, 448]);

	g.append("g").selectAll("line").data(tempGrid).join("line")
		.attr("x1", x(8)).attr("x2", 1206)
		.attr("y1", (d) => y(d)).attr("y2", (d) => y(d))
		.attr("stroke", "#e2e2e2").attr("stroke-width", 1);
	g.append("line").attr("x1", x(439)).attr("x2", x(449)).attr("y1", y(45)).attr("y2", y(45))
		.attr("stroke", "#e2e2e2");

	// each reading holds for most of its hour, then ramps to the next one
	const outdoor = outdoorCycles.flatMap((temps, i) => temps.flatMap((t, j) => [
		{ hour: outdoorStarts[i] + j, temp: t },
		{ hour: outdoorStarts[i] + j + 0.6, temp: t }
	]));
	const outdoorLine = d3.line().x((d) => x(d.hour)).y((d) => y(d.temp));
	g.append("path").attr("d", outdoorLine(outdoor))
		.attr("fill", "none").attr("stroke", "#5688c4").attr("stroke-width", 1.9);

	const indoorLine = d3.line().x((d) => x(d[0])).y((d) => y(d[1]));
	g.append("path").attr("d", indoorLine(indoorReadings))
		.attr("fill", "none").attr("stroke", "#c00a0a").attr("stroke-width", 2.7).attr("stroke-linejoin", "round");

	const left = d3.axisLeft(y).tickValues(tempTicks).tickSize(0).tickPadding(5);
	const leftG = g.append("g").attr("class", "bold-tick").attr("transform", "translate(43.5,0)").call(left);
	leftG.select(".domain").remove();
	leftG.selectAll("text").attr("font-size", 24).attr("font-family", "Liberation Sans")
		.attr("dy", (d) => (d === 25 ? "-0.1em" : "0.4em"));

	const bottom = d3.axisBottom(x).tickValues(timeTicks).tickSizeInner(-7).tickSizeOuter(0).tickPadding(13)
		.tickFormat((d, i) => timeLabels[i]);
	const bottomG = g.append("g").attr("class", "bold-tick").attr("transform", "translate(0,936)").call(bottom);
	bottomG.select(".domain").remove();
	bottomG.selectAll("text").attr("font-size", 18).attr("font-family", "Liberation Sans");
	bottomG.selectAll("line").attr("stroke", "#777");

	const top = d3.axisTop(x).tickValues(timeTopTicks).tickSizeInner(-3).tickSizeOuter(0).tickFormat("");
	const topG = g.append("g").attr("transform", "translate(0,448)").call(top);
	topG.select(".domain").remove();
	topG.selectAll("line").attr("stroke", "#777");

	addFrame(g, 43.5, 448, 1163.5, 488, "#444", 1.7);
};

drawMap();
drawClimate();
drawHumidity();
drawSeries();
</script>
</body>
</html>
